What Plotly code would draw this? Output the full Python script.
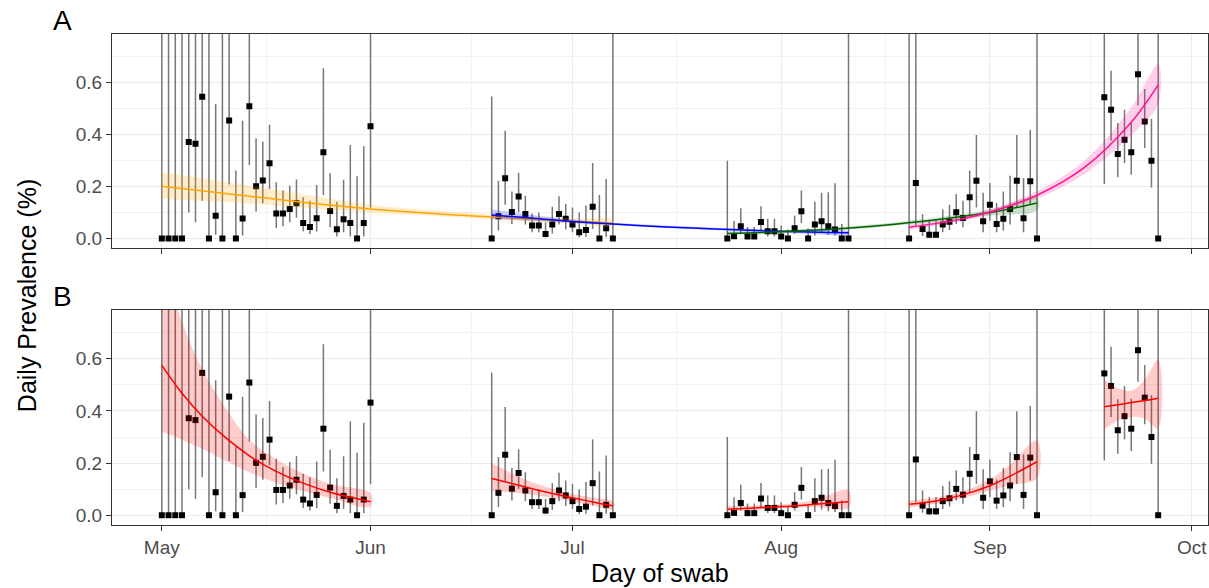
import pandas as pd
import plotly.graph_objects as go
from plotly.subplots import make_subplots

# swab rounds, one point per day
round_starts = ["2020-05-01", "2020-06-19", "2020-07-24", "2020-08-20", "2020-09-18"]
round_ends = ["2020-06-01", "2020-07-07", "2020-08-11", "2020-09-08", "2020-09-26"]

# daily prevalence (%) and 95% CI (1.2 = bar runs off the top)
prev_r1 = [0, 0, 0, 0, 0.372, 0.365, 0.546, 0, 0.088, 0, 0.455, 0, 0.077, 0.509, 0.201, 0.224,
           0.290, 0.097, 0.097, 0.114, 0.136, 0.060, 0.045, 0.078, 0.332, 0.106, 0.036, 0.074, 0.060, 0, 0.060, 0.432]
lo_r1 = [0, 0, 0, 0, 0.100, 0.063, 0.146, 0, 0.015, 0, 0.208, 0, 0.012, 0.283, 0.104, 0.136,
         0.191, 0.041, 0.047, 0.063, 0.080, 0.028, 0.018, 0.027, 0.168, 0.044, 0.008, 0.024, 0.008, 0, 0.008, 0.119]
hi_r1 = [1.2, 1.2, 1.2, 1.2, 1.2, 1.2, 1.2, 1.2, 0.518, 1.2, 1.2, 0.262, 0.454, 1.2, 0.386, 0.373,
         0.438, 0.217, 0.185, 0.204, 0.227, 0.159, 0.146, 0.206, 0.656, 0.251, 0.142, 0.226, 0.360, 0.240, 0.355, 1.2]

prev_r2 = [0, 0.086, 0.232, 0.102, 0.162, 0.095, 0.050, 0.050, 0.018, 0.054, 0.095, 0.076, 0.054, 0.024,
           0.033, 0.123, 0, 0.040, 0]
lo_r2 = [0, 0.031, 0.130, 0.056, 0.101, 0.054, 0.024, 0.024, 0.004, 0.020, 0.054, 0.035, 0.024, 0.004,
         0.006, 0.037, 0, 0.006, 0]
hi_r2 = [0.547, 0.223, 0.415, 0.181, 0.253, 0.165, 0.097, 0.100, 0.063, 0.123, 0.163, 0.133, 0.120, 0.100,
         0.127, 0.291, 0.168, 0.229, 1.2]

prev_r3 = [0, 0.009, 0.047, 0.008, 0.008, 0.064, 0.028, 0.028, 0.008, 0, 0.040, 0.105, 0, 0.054,
           0.067, 0.047, 0.035, 0, 0]
lo_r3 = [0, 0.001, 0.018, 0.001, 0.001, 0.031, 0.008, 0.008, 0.001, 0, 0.018, 0.060, 0, 0.012,
         0.022, 0.015, 0.012, 0, 0]
hi_r3 = [0.300, 0.069, 0.117, 0.045, 0.045, 0.124, 0.076, 0.076, 0.050, 0.035, 0.088, 0.185, 0.040, 0.142,
         0.176, 0.178, 0.213, 0.056, 1.2]

prev_r4 = [0, 0.214, 0.037, 0.015, 0.015, 0.054, 0.065, 0.101, 0.079, 0.159, 0.223, 0.067, 0.130, 0.056,
           0.076, 0.114, 0.223, 0.078, 0.221, 0]
lo_r4 = [0, 0.050, 0.010, 0.002, 0.002, 0.024, 0.033, 0.056, 0.044, 0.088, 0.120, 0.024, 0.069, 0.024,
         0.031, 0.054, 0.120, 0.024, 0.133, 0]
hi_r4 = [1.2, 1.2, 0.095, 0.069, 0.069, 0.112, 0.130, 0.172, 0.146, 0.262, 0.399, 0.176, 0.214, 0.137,
         0.181, 0.242, 0.399, 0.233, 0.419, 1.2]

prev_r5 = [0.544, 0.496, 0.326, 0.380, 0.332, 0.633, 0.451, 0.300, 0]
lo_r5 = [0.210, 0.377, 0.236, 0.291, 0.246, 0.512, 0.349, 0.197, 0]
hi_r5 = [1.2, 0.646, 0.445, 0.496, 0.447, 1.2, 0.576, 0.460, 1.2]

# panel A: fits across pairs of rounds
orange_dates = ["2020-05-01", "2020-05-15", "2020-06-01", "2020-06-15", "2020-07-01", "2020-07-07"]
orange_mid = [0.201, 0.160, 0.114, 0.089, 0.067, 0.060]
orange_lo = [0.153, 0.133, 0.100, 0.080, 0.058, 0.050]
orange_hi = [0.255, 0.200, 0.130, 0.100, 0.078, 0.072]

blue_dates = ["2020-06-19", "2020-07-01", "2020-07-15", "2020-08-01", "2020-08-11"]
blue_mid = [0.091, 0.066, 0.045, 0.028, 0.022]
blue_lo = [0.075, 0.060, 0.041, 0.024, 0.017]
blue_hi = [0.112, 0.073, 0.050, 0.033, 0.028]

green_dates = ["2020-07-24", "2020-08-01", "2020-08-15", "2020-09-01", "2020-09-08"]
green_mid = [0.020, 0.026, 0.048, 0.100, 0.137]
green_lo = [0.014, 0.021, 0.043, 0.088, 0.110]
green_hi = [0.028, 0.032, 0.055, 0.112, 0.160]

pink_dates = ["2020-08-20", "2020-08-27", "2020-09-01", "2020-09-08", "2020-09-15", "2020-09-22", "2020-09-26"]
pink_mid = [0.044, 0.071, 0.102, 0.167, 0.273, 0.448, 0.592]
pink_lo = [0.035, 0.063, 0.093, 0.153, 0.248, 0.398, 0.518]
pink_hi = [0.054, 0.080, 0.112, 0.182, 0.300, 0.505, 0.672]

# panel B: separate fit within each round
red1_dates = ["2020-05-01", "2020-05-04", "2020-05-07", "2020-05-10", "2020-05-14", "2020-05-18",
              "2020-05-22", "2020-05-26", "2020-06-01"]
red1_mid = [0.575, 0.468, 0.380, 0.308, 0.228, 0.168, 0.123, 0.088, 0.052]
red1_lo = [0.320, 0.290, 0.255, 0.215, 0.165, 0.125, 0.093, 0.066, 0.033]
red1_hi = [1.000, 0.740, 0.560, 0.430, 0.290, 0.215, 0.160, 0.120, 0.084]

red2_dates = ["2020-06-19", "2020-06-23", "2020-06-26", "2020-07-01", "2020-07-04", "2020-07-07"]
red2_mid = [0.141, 0.115, 0.095, 0.067, 0.051, 0.036]
red2_lo = [0.093, 0.085, 0.075, 0.053, 0.037, 0.023]
red2_hi = [0.200, 0.148, 0.118, 0.082, 0.067, 0.053]

red3_dates = ["2020-07-24", "2020-07-28", "2020-08-01", "2020-08-06", "2020-08-11"]
red3_mid = [0.023, 0.028, 0.033, 0.042, 0.052]
red3_lo = [0.013, 0.020, 0.026, 0.032, 0.029]
red3_hi = [0.035, 0.037, 0.041, 0.058, 0.096]

red4_dates = ["2020-08-20", "2020-08-24", "2020-08-28", "2020-09-01", "2020-09-04", "2020-09-08"]
red4_mid = [0.042, 0.055, 0.078, 0.113, 0.150, 0.205]
red4_lo = [0.030, 0.044, 0.066, 0.094, 0.115, 0.144]
red4_hi = [0.056, 0.068, 0.092, 0.138, 0.195, 0.287]

red5_dates = ["2020-09-18", "2020-09-20", "2020-09-22", "2020-09-24", "2020-09-26"]
red5_mid = [0.416, 0.424, 0.432, 0.440, 0.449]
red5_lo = [0.329, 0.362, 0.377, 0.370, 0.333]
red5_hi = [0.520, 0.488, 0.478, 0.520, 0.597]

month_ticks = ["2020-05-01", "2020-06-01", "2020-07-01", "2020-08-01", "2020-09-01", "2020-10-01"]
y_ticks = [0.0, 0.2, 0.4, 0.6]

days = pd.concat([pd.Series(pd.date_range(s, e, freq="D")) for s, e in zip(round_starts, round_ends)])
prev = prev_r1 + prev_r2 + prev_r3 + prev_r4 + prev_r5
lo = lo_r1 + lo_r2 + lo_r3 + lo_r4 + lo_r5
hi = hi_r1 + hi_r2 + hi_r3 + hi_r4 + hi_r5

fig = make_subplots(rows=2, cols=1, shared_xaxes=True)

for row in (1, 2):
    fig.add_trace(go.Scatter(
        x=days, y=prev, mode="markers",
        marker=dict(symbol="square", size=6, color="black"),
        error_y=dict(type="data", symmetric=False,
                     array=[h - p for h, p in zip(hi, prev)],
                     arrayminus=[p - l for p, l in zip(prev, lo)],
                     width=0, thickness=1.5, color="#777777"),
        showlegend=False), row=row, col=1)


def add_fit(dates, mid, low, high, colour, fill, row):
    fig.add_trace(go.Scatter(
        x=list(dates) + list(dates)[::-1], y=list(high) + list(low)[::-1],
        fill="toself", fillcolor=fill, line=dict(width=0, shape="spline"),
        mode="lines", hoverinfo="skip", showlegend=False), row=row, col=1)
    fig.add_trace(go.Scatter(
        x=dates, y=mid, mode="lines", line=dict(color=colour, width=1.5, shape="spline"),
        showlegend=False), row=row, col=1)


add_fit(orange_dates, orange_mid, orange_lo, orange_hi, "#FFA500", "rgba(255,165,0,0.2)", 1)
add_fit(blue_dates, blue_mid, blue_lo, blue_hi, "#0000FF", "rgba(0,0,255,0.2)", 1)
add_fit(green_dates, green_mid, green_lo, green_hi, "#006400", "rgba(0,100,0,0.2)", 1)
add_fit(pink_dates, pink_mid, pink_lo, pink_hi, "#FF1493", "rgba(255,20,147,0.2)", 1)

for d, m, l, h in [(red1_dates, red1_mid, red1_lo, red1_hi), (red2_dates, red2_mid, red2_lo, red2_hi),
                   (red3_dates, red3_mid, red3_lo, red3_hi), (red4_dates, red4_mid, red4_lo, red4_hi),
                   (red5_dates, red5_mid, red5_lo, red5_hi)]:
    add_fit(d, m, l, h, "#FF0000", "rgba(255,0,0,0.2)", 2)

# minor vertical grid halfway between month breaks (as ggplot does)
mt = pd.to_datetime(month_ticks)
minor_x = [a + (b - a) / 2 for a, b in zip(mt[:-1], mt[1:])]

tick_font = dict(family="Liberation Sans, Arial, sans-serif", size=19, color="#4D4D4D")
axis_common = dict(showline=True, mirror=True, linecolor="#333333", linewidth=1,
                   ticks="outside", ticklen=5, tickcolor="#333333", tickwidth=1,
                   gridcolor="#EBEBEB", gridwidth=1.2, zeroline=False, tickfont=tick_font)

fig.update_xaxes(**axis_common, tickvals=month_ticks, tickformat="%b",
                 range=["2020-04-23 14:24", "2020-10-03 09:36"],
                 minor=dict(tickmode="array", tickvals=minor_x, showgrid=True,
                            gridcolor="#F2F2F2", gridwidth=1, ticklen=0))
fig.update_yaxes(**axis_common, tickvals=y_ticks, tickformat=".1f", range=[-0.0375, 0.7875],
                 minor=dict(dtick=0.1, showgrid=True, gridcolor="#F2F2F2", gridwidth=1, ticklen=0))
fig.update_xaxes(showticklabels=False, row=1, col=1)

fig.update_layout(
    width=1209, height=588,
    margin=dict(l=112, r=1, t=34, b=63),
    plot_bgcolor="white", paper_bgcolor="white",
    font=dict(family="Liberation Sans, Arial, sans-serif", color="black"),
    yaxis=dict(domain=[0.5635, 1.0]),
    yaxis2=dict(domain=[0.0, 0.438]),
    annotations=[
        dict(text="A", x=-0.0456, y=1.0285, xref="paper", yref="paper", showarrow=False,
             xanchor="center", yanchor="middle", font=dict(size=28)),
        dict(text="B", x=-0.0456, y=0.466, xref="paper", yref="paper", showarrow=False,
             xanchor="center", yanchor="middle", font=dict(size=28)),
        dict(text="Daily Prevalence (%)", x=-0.0776, y=0.468, xref="paper", yref="paper",
             showarrow=False, textangle=-90, xanchor="center", yanchor="middle", font=dict(size=25)),
        dict(text="Day of swab", x=0.5, y=-0.0978, xref="paper", yref="paper", showarrow=False,
             xanchor="center", yanchor="middle", font=dict(size=25)),
    ],
)

# drop the default 8px page margin so the figure sits at the window origin
fig.write_html("out.html", config={"displayModeBar": False},
               post_script="document.body.style.margin='0';document.body.style.overflow='hidden';")
